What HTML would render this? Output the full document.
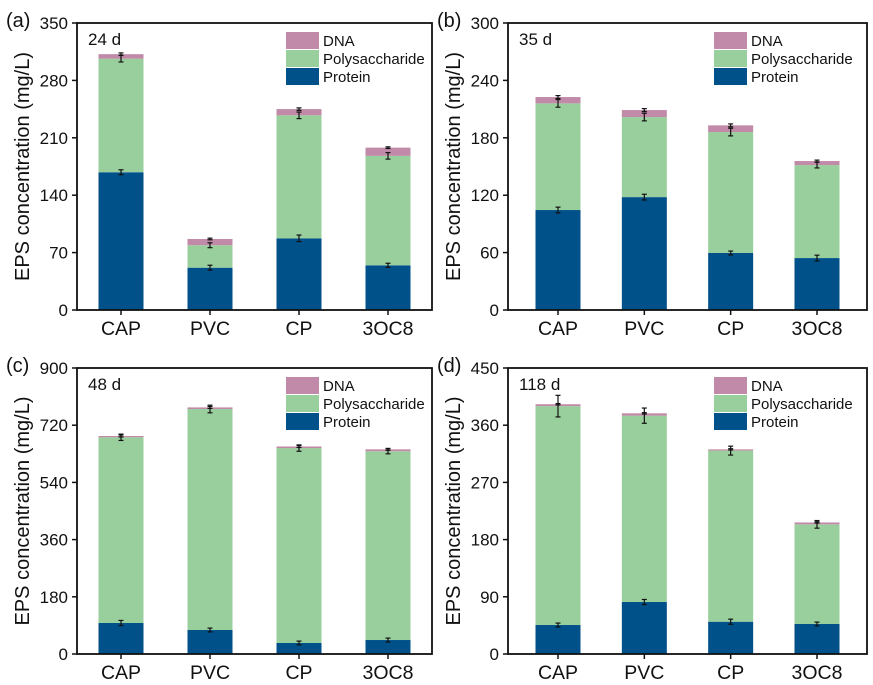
<!DOCTYPE html>
<html><head><meta charset="utf-8"><style>
body{margin:0;background:#fff;width:873px;height:680px;overflow:hidden}
svg text{font-family:"Liberation Sans",Arial,sans-serif;fill:#111}
</style></head><body>
<svg id="fig" width="873" height="680"></svg>
<script>
const categories=["CAP","PVC","CP","3OC8"];
const proteinA=[168,51.6,87.4,54.5], polyA=[138.5,27.4,150,133.5], dnaA=[5.5,7.6,7.6,10];
const proteinB=[104.5,118,59.6,54.3], polyB=[111.5,83.7,126.4,97.2], dnaB=[6.6,7.3,7,4.2];
const proteinC=[97.6,75.5,34.6,44], polyC=[584.4,695.5,613.4,594], dnaC=[4,5,5,6];
const proteinD=[45.6,81.8,50.8,47.2], polyD=[344.4,293.2,269.2,156.8], dnaD=[3,3.7,2,3];
const errProtA=[3,3,4,2.5], errPolyA=[4,3,4,4], errDnaA=[1.5,1,1.5,1];
const errProtB=[3,3,2,3], errPolyB=[4,4,4,3], errDnaB=[1.5,1.5,1.5,1];
const errProtC=[8,6,6,6], errPolyC=[10,12,10,8], errDnaC=[3,3,3,3];
const errProtD=[3,4,4,3], errPolyD=[17,12,7,6], errDnaD=[1,1,1,1];
const ticksA=[0,70,140,210,280,350], ticksB=[0,60,120,180,240,300], ticksC=[0,180,360,540,720,900], ticksD=[0,90,180,270,360,450];
const panels=[
 {id:"a",label:"(a)",day:"24 d",x0:77,y0:23,x1:432,y1:310,pad:44,max:350,ticks:ticksA,p:proteinA,s:polyA,d:dnaA,ep:errProtA,es:errPolyA,ed:errDnaA},
 {id:"b",label:"(b)",day:"35 d",x0:508,y0:23,x1:867,y1:310,pad:50,max:300,ticks:ticksB,p:proteinB,s:polyB,d:dnaB,ep:errProtB,es:errPolyB,ed:errDnaB},
 {id:"c",label:"(c)",day:"48 d",x0:77,y0:368,x1:432,y1:654,pad:44,max:900,ticks:ticksC,p:proteinC,s:polyC,d:dnaC,ep:errProtC,es:errPolyC,ed:errDnaC},
 {id:"d",label:"(d)",day:"118 d",x0:508,y0:368,x1:867,y1:654,pad:50,max:450,ticks:ticksD,p:proteinD,s:polyD,d:dnaD,ep:errProtD,es:errPolyD,ed:errDnaD}
];
const C={p:"#00508a",s:"#99cf9c",d:"#c08aa8"};
const svg=document.getElementById('fig');
const NS="http://www.w3.org/2000/svg";
function mk(tag,attrs,parent,txt){const e=document.createElementNS(NS,tag);for(const k in attrs)e.setAttribute(k,attrs[k]);if(txt!==undefined)e.textContent=txt;parent.appendChild(e);return e;}
panels.forEach(P=>{
 const g=mk('g',{},svg);
 
 
 const y=v=>P.y1-v/P.max*(P.y1-P.y0);
 const step=(P.x1-P.x0-2*P.pad)/(categories.length-1);
 const xc=i=>P.x0+P.pad+i*step;
 const bw=45;
 categories.forEach((c,i)=>{
  const segs=[["p",0,P.p[i],P.ep[i]],["s",P.p[i],P.p[i]+P.s[i],P.es[i]],["d",P.p[i]+P.s[i],P.p[i]+P.s[i]+P.d[i],P.ed[i]]];
  segs.forEach(([k,a,b])=>{
   const r=mk('rect',{x:xc(i)-bw/2,y:y(b),width:bw,height:y(a)-y(b),fill:C[k]},g);
   
   
  });
  segs.forEach(([k,a,b,e])=>{
   const eg=mk('g',{stroke:"#111","stroke-width":1.2},g);
   
   
   mk('line',{x1:xc(i),x2:xc(i),y1:y(b+e),y2:y(b-e)},eg);
   mk('line',{x1:xc(i)-2.5,x2:xc(i)+2.5,y1:y(b+e),y2:y(b+e)},eg);
   mk('line',{x1:xc(i)-2.5,x2:xc(i)+2.5,y1:y(b-e),y2:y(b-e)},eg);
  });
  mk('line',{x1:xc(i),x2:xc(i),y1:P.y1,y2:P.y1+5,stroke:"#111","stroke-width":1.5},g);
  const t=mk('text',{x:xc(i),y:P.y1+25,"text-anchor":"middle","font-size":19.5},g,c);
  
  
 });
 P.ticks.forEach(v=>{
  mk('line',{x1:P.x0-5,x2:P.x0,y1:y(v),y2:y(v),stroke:"#111","stroke-width":1.5},g);
  const t=mk('text',{x:P.x0-9,y:y(v)+6,"text-anchor":"end","font-size":17},g,v);
  
  
 });
 const fr=mk('rect',{x:P.x0,y:P.y0,width:P.x1-P.x0,height:P.y1-P.y0,fill:"none",stroke:"#111","stroke-width":1.8},g);
 
 
 const yt=mk('text',{transform:`translate(${P.x0-48},${(P.y0+P.y1)/2}) rotate(-90)`,"text-anchor":"middle","font-size":20},g,"EPS concentration (mg/L)");
 
 
 const pl=mk('text',{x:P.x0-71,y:P.y0+4,"font-size":20},g,P.label);
 
 
 const dl=mk('text',{x:P.x0+11,y:P.y0+22,"font-size":17},g,P.day);
 
 
 const lx=P.x0+(P.id==="a"||P.id==="c"?209:206), ly=P.y0+9;
 [["d","DNA"],["s","Polysaccharide"],["p","Protein"]].forEach(([k,n],j)=>{
  const le=mk('g',{},g);
  
  
  mk('rect',{x:lx,y:ly+j*18,width:33,height:17,fill:C[k]},le);
  mk('text',{x:lx+37,y:ly+j*18+14,"font-size":15},le,n);
 });
});
</script>
</body></html>
